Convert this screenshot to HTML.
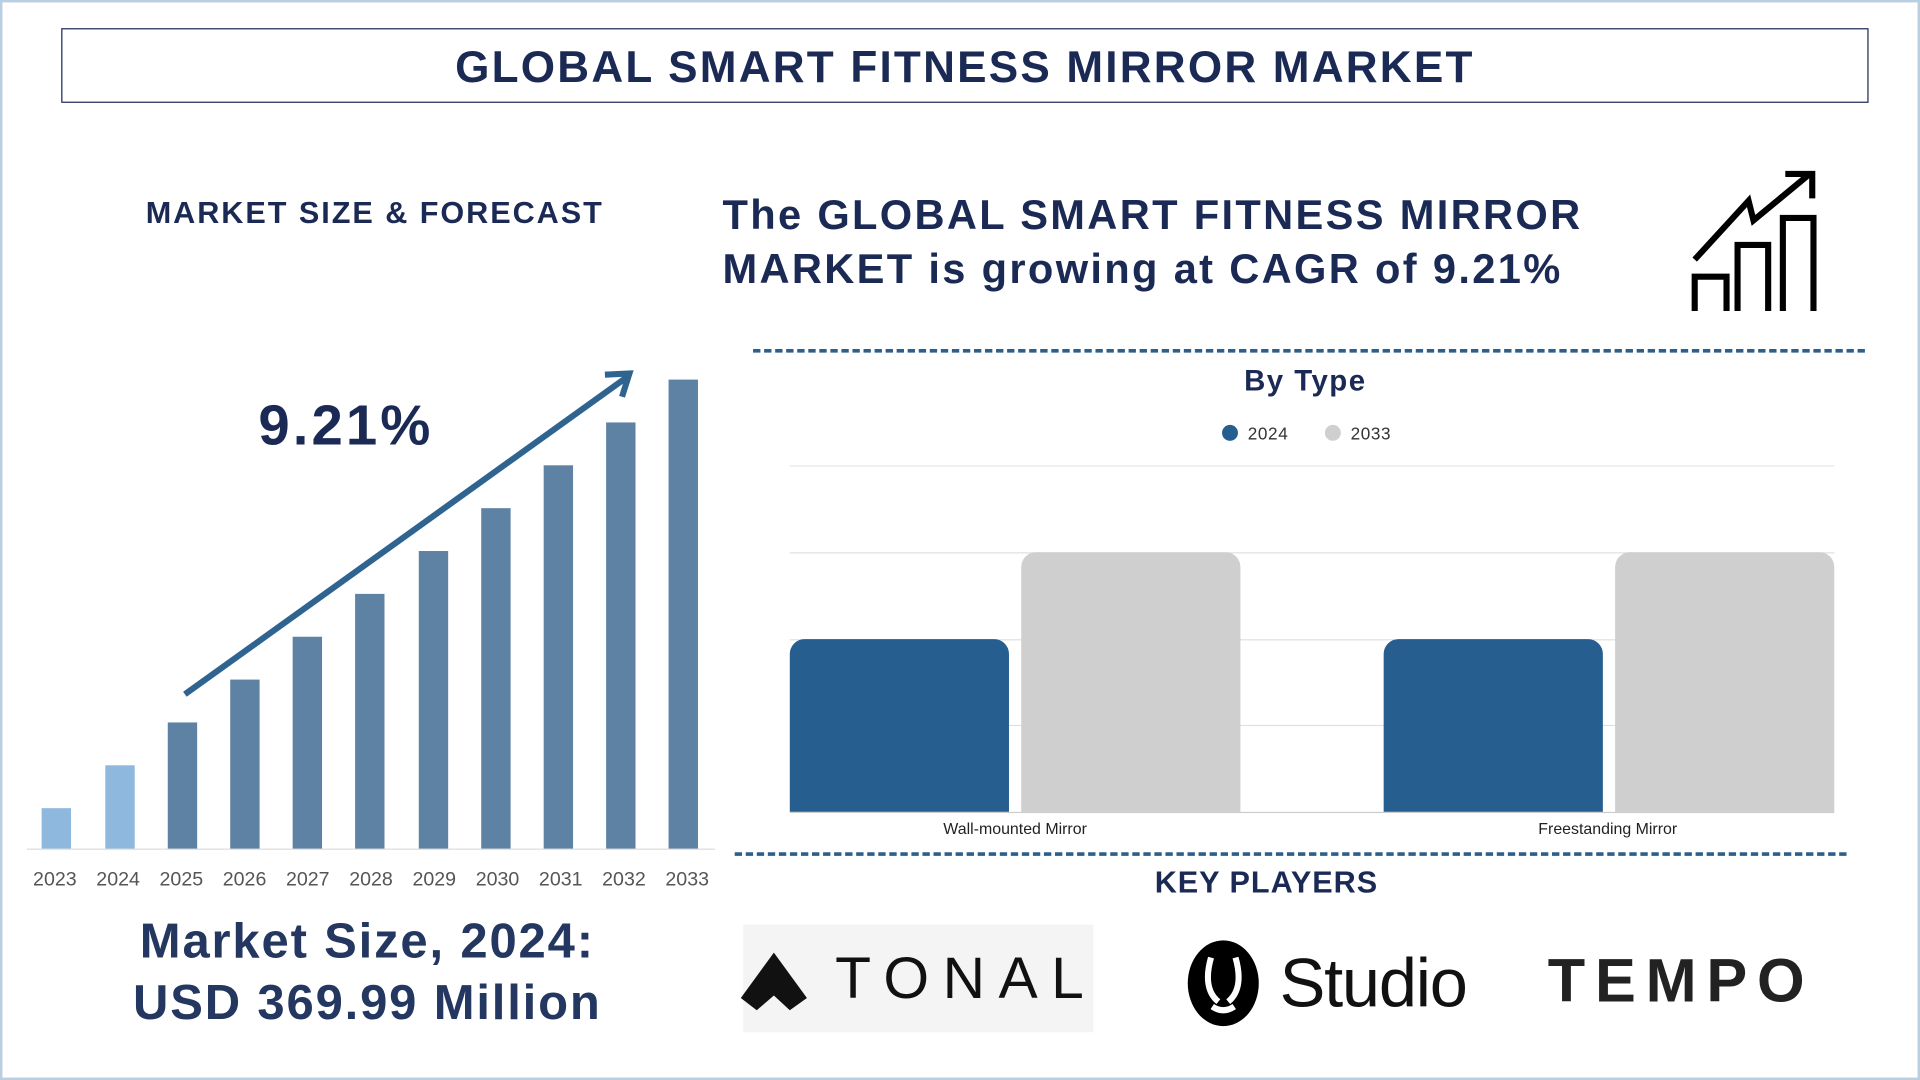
<!DOCTYPE html>
<html><head><meta charset="utf-8"><style>
html,body{margin:0;padding:0;background:#fff;width:1920px;height:1080px;overflow:hidden}
#w{position:absolute;left:0;top:0;width:1568px;height:882px;transform:scale(1.22449);transform-origin:0 0;font-family:"Liberation Sans",sans-serif;color:#1b2a55}
.a{position:absolute}
.b{font-weight:bold}
</style></head><body><div id="w">
<div class="a" style="left:0;top:0;width:1564px;height:878px;border:2px solid #b9cfe0"></div>
<div class="a" style="left:50px;top:23px;width:1474px;height:59px;border:1.5px solid #1b2a55"></div>
<div class="a b" style="left:50px;top:34px;width:1476px;text-align:center;font-size:36px;letter-spacing:1.8px">GLOBAL SMART FITNESS MIRROR MARKET</div>
<div class="a b" style="left:119px;top:160px;font-size:25px;letter-spacing:1.6px">MARKET SIZE &amp; FORECAST</div>
<div class="a b" style="left:590px;top:154px;font-size:34px;line-height:44px;letter-spacing:1.9px">The GLOBAL SMART FITNESS MIRROR<br>MARKET is growing at CAGR of 9.21%</div>
<svg class="a" style="left:1370px;top:130px" width="130" height="130" viewBox="1370 130 130 130">
<g fill="none" stroke="#000" stroke-width="5">
<path d="M1384 254V226H1410V254M1419 254V200H1444V254M1456 254V178H1481V254"/>
<path d="M1384 212L1428 164L1432 180L1478 142"/>
<path d="M1458 142H1480V162"/>
</g></svg>
<div class="a" style="left:615px;top:285px;width:908px;border-top:3px dashed #2d5f8a"></div>
<div class="a" style="left:600px;top:696px;width:908px;border-top:3px dashed #2d5f8a"></div>
<div class="a b" style="left:211px;top:320px;font-size:46px;letter-spacing:2.5px">9.21%</div>
<div class="a" style="left:22px;top:693px;width:562px;border-top:1px solid #ddd"></div>
<div class="a" style="left:34px;top:660px;width:24px;height:33px;background:#8fb8de"></div>
<div class="a" style="left:86px;top:625px;width:24px;height:68px;background:#8fb8de"></div>
<div class="a" style="left:137px;top:590px;width:24px;height:103px;background:#5e82a3"></div>
<div class="a" style="left:188px;top:555px;width:24px;height:138px;background:#5e82a3"></div>
<div class="a" style="left:239px;top:520px;width:24px;height:173px;background:#5e82a3"></div>
<div class="a" style="left:290px;top:485px;width:24px;height:208px;background:#5e82a3"></div>
<div class="a" style="left:342px;top:450px;width:24px;height:243px;background:#5e82a3"></div>
<div class="a" style="left:393px;top:415px;width:24px;height:278px;background:#5e82a3"></div>
<div class="a" style="left:444px;top:380px;width:24px;height:313px;background:#5e82a3"></div>
<div class="a" style="left:495px;top:345px;width:24px;height:348px;background:#5e82a3"></div>
<div class="a" style="left:546px;top:310px;width:24px;height:383px;background:#5e82a3"></div>
<svg class="a" style="left:0;top:0" width="600" height="700"><g stroke="#2f6390" stroke-width="5" fill="none"><path d="M151 567L512 308"/><path d="M494 306L514 305L508 324"/></g></svg>
<div class="a" style="left:27px;top:710px;width:552px;font-size:16px;color:#555;display:flex;justify-content:space-between"><span>2023</span><span>2024</span><span>2025</span><span>2026</span><span>2027</span><span>2028</span><span>2029</span><span>2030</span><span>2031</span><span>2032</span><span>2033</span></div>
<div class="a b" style="left:0;top:744px;width:600px;text-align:center;font-size:40px;line-height:50px;color:#243760;letter-spacing:1.5px">Market Size, 2024:<br>USD 369.99 Million</div>
<div class="a b" style="left:1016px;top:298px;font-size:24px;letter-spacing:1.2px">By Type</div>
<div class="a" style="left:998px;top:347px;width:13px;height:13px;border-radius:50%;background:#255e8f"></div>
<div class="a" style="left:1019px;top:346px;font-size:14px;color:#333;letter-spacing:.5px">2024</div>
<div class="a" style="left:1082px;top:347px;width:13px;height:13px;border-radius:50%;background:#cfcfcf"></div>
<div class="a" style="left:1103px;top:346px;font-size:14px;color:#333;letter-spacing:.5px">2033</div>
<div class="a" style="left:645px;top:380px;width:853px;border-top:1px solid #e6e6e6"></div>
<div class="a" style="left:645px;top:451px;width:853px;border-top:1px solid #e0e0e0"></div>
<div class="a" style="left:645px;top:522px;width:853px;border-top:1px solid #e0e0e0"></div>
<div class="a" style="left:645px;top:592px;width:853px;border-top:1px solid #e0e0e0"></div>
<div class="a" style="left:645px;top:522px;width:179px;height:141px;background:#255e8f;border-radius:12px 12px 0 0"></div>
<div class="a" style="left:834px;top:451px;width:179px;height:212px;background:#cfcfcf;border-radius:12px 12px 0 0"></div>
<div class="a" style="left:1130px;top:522px;width:179px;height:141px;background:#255e8f;border-radius:12px 12px 0 0"></div>
<div class="a" style="left:1319px;top:451px;width:179px;height:212px;background:#cfcfcf;border-radius:12px 12px 0 0"></div>
<div class="a" style="left:645px;top:663px;width:853px;border-top:1px solid #ccc"></div>
<div class="a" style="left:729px;top:669px;width:200px;text-align:center;font-size:13px;color:#222">Wall-mounted Mirror</div>
<div class="a" style="left:1213px;top:669px;width:200px;text-align:center;font-size:13px;color:#222">Freestanding Mirror</div>
<div class="a b" style="left:943px;top:707px;font-size:25px;letter-spacing:.8px">KEY PLAYERS</div>
<div class="a" style="left:607px;top:755px;width:286px;height:88px;background:#f4f4f4"></div>
<svg class="a" style="left:605px;top:775px" width="60" height="55"><path d="M27 3L54 40L40 50L27 38L13 50L0 40Z" fill="#111"/></svg>
<div class="a" style="left:682px;top:772px;font-size:48px;letter-spacing:11px;color:#111">TONAL</div>
<svg class="a" style="left:968px;top:766px" width="62" height="74"><ellipse cx="31" cy="37" rx="29" ry="35" fill="#000"/><path d="M21 16C17 30 17 44 27 52M41 16C45 30 45 44 35 52M22 56Q31 62 40 56" stroke="#fff" stroke-width="5" fill="none"/></svg>
<div class="a" style="left:1045px;top:770px;font-size:56px;color:#111;letter-spacing:-1px">Studio</div>
<div class="a b" style="left:1264px;top:772px;font-size:50px;letter-spacing:8px;color:#222">TEMPO</div>
</div></body></html>
